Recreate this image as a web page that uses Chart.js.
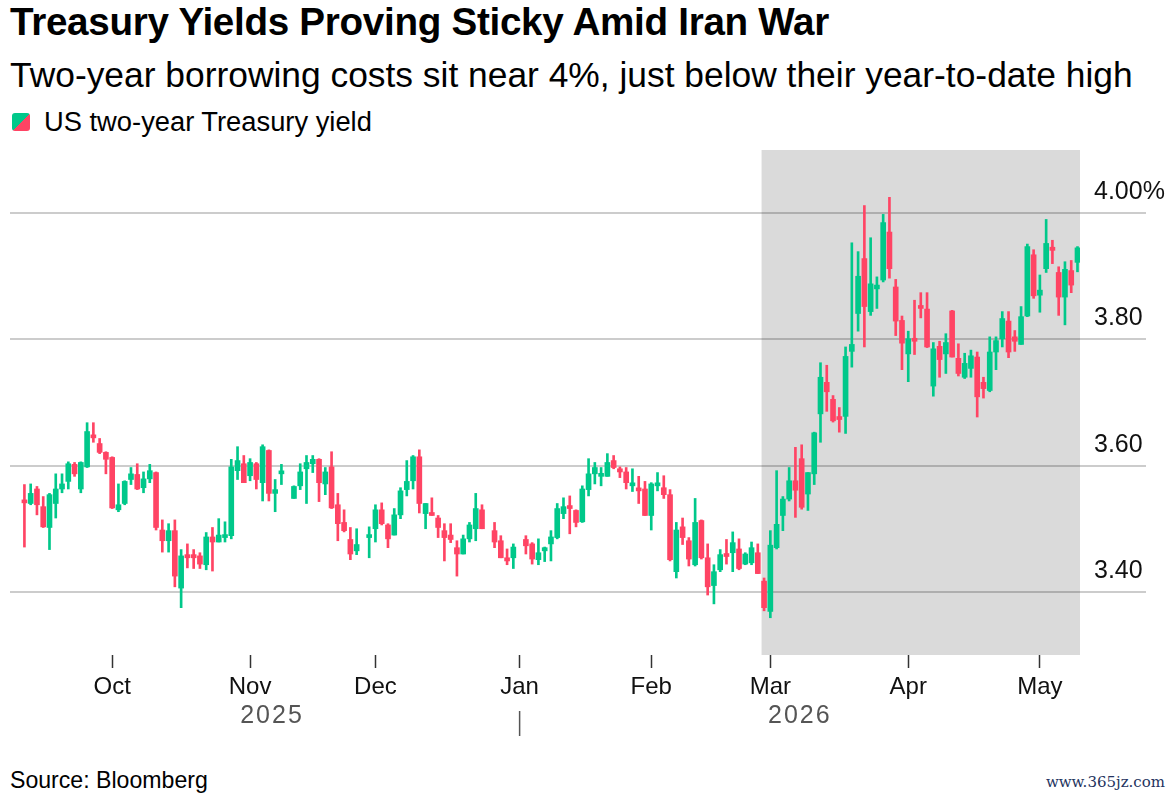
<!DOCTYPE html>
<html><head><meta charset="utf-8">
<script src="https://cdn.jsdelivr.net/npm/chart.js@4.4.1/dist/chart.umd.min.js"></script>
<style>
html,body{margin:0;padding:0;background:#fff;overflow:hidden;width:1173px;height:798px;font-family:"Liberation Sans",Arial,sans-serif;color:#000}
.t{position:absolute;white-space:nowrap;line-height:1}
#title{left:10px;top:3px;font-size:35px;font-weight:700;letter-spacing:-0.3px}
#sub{left:10px;top:57px;font-size:31px}
#leg{left:12px;top:108px;font-size:26px;display:flex;align-items:center}
#leg i{display:inline-block;width:18px;height:18px;margin-right:14px;border-radius:3px;background:linear-gradient(135deg,#00c88a 50%,#ff4464 50%)}
#src{left:10px;top:769px;font-size:23px}
#wm{right:8px;top:775px;font-size:15px;font-family:"DejaVu Serif","Liberation Serif",serif;color:#24335e}
canvas{position:absolute;left:0;top:140px}
</style></head>
<body>
<div class="t" id="title">Treasury Yields Proving Sticky Amid Iran War</div>
<div class="t" id="sub">Two-year borrowing costs sit near 4%, just below their year-to-date high</div>
<div class="t" id="leg"><i></i><span id="legtxt">US two-year Treasury yield</span></div>
<div class="t" id="src">Source: Bloomberg</div>
<div class="t" id="wm">www.365jz.com</div>
<canvas id="c" width="1173" height="605"></canvas>
<script>
// Daily OHLC of the US two-year Treasury yield (%), one slot per weekday; null = no trading
const opens = [3.545,3.540,3.563,3.535,3.502,3.540,3.563,3.575,3.602,3.563,
3.598,3.648,3.635,3.621,3.613,3.530,3.540,3.578,3.586,3.565,
3.579,3.589,3.498,3.481,3.497,3.406,3.459,3.459,3.457,3.443,
3.487,3.479,3.486,3.489,3.592,3.603,3.584,3.603,3.573,3.624,
3.556,3.587,null,3.548,3.568,3.595,3.603,3.610,3.571,3.598,
3.538,3.510,3.483,3.465,null,3.486,3.500,3.530,3.506,3.490,
3.522,3.562,3.576,3.614,3.524,3.524,3.517,3.497,3.490,3.470,
3.460,3.484,3.500,3.530,null,3.497,3.481,3.454,3.454,null,
3.483,3.476,3.451,3.465,3.476,3.486,3.524,3.533,3.529,3.511,
3.562,3.587,3.583,3.583,3.608,3.595,3.590,3.568,3.563,3.563,
3.521,3.568,3.565,3.554,3.432,3.503,3.481,3.443,3.513,3.454,
3.410,3.435,3.459,3.462,3.468,3.444,3.446,3.462,3.417,3.369,
3.470,3.521,3.547,3.576,3.611,3.555,3.587,3.682,3.732,3.705,
3.675,3.678,3.781,3.841,3.928,3.844,3.880,3.894,3.970,3.883,
3.830,3.777,3.801,3.852,3.848,3.726,3.789,3.777,3.845,3.770,
3.740,3.754,3.772,3.732,3.719,3.780,3.801,3.829,3.804,3.792,
3.837,3.934,3.870,3.912,3.946,3.906,3.867,3.909,3.922];
const highs = [3.570,3.571,3.567,3.551,3.556,3.587,3.587,3.606,3.605,3.606,
3.668,3.668,3.643,3.622,3.614,3.571,3.576,3.597,3.603,3.590,
3.602,3.590,3.514,3.508,3.514,3.467,3.476,3.467,3.462,3.494,
3.502,3.516,3.511,3.610,3.630,3.616,3.611,3.605,3.633,3.625,
3.578,3.602,null,3.568,3.603,3.616,3.616,3.611,3.597,3.622,
3.556,3.530,3.502,3.500,null,3.503,3.538,3.541,3.508,3.532,
3.565,3.608,3.616,3.625,3.540,3.549,3.521,3.508,3.508,3.481,
3.490,3.510,3.556,3.538,null,3.510,3.489,3.468,3.476,null,
3.489,3.478,3.484,3.471,3.497,3.540,3.549,3.552,3.530,3.568,
3.611,3.605,3.597,3.619,3.616,3.598,3.597,3.595,3.583,3.575,
3.573,3.589,3.584,3.562,3.510,3.517,3.486,3.548,3.514,3.476,
3.443,3.467,3.483,3.495,3.484,3.462,3.479,3.476,3.422,3.497,
3.592,3.551,3.597,3.629,3.633,3.589,3.653,3.763,3.759,3.711,
3.692,3.788,3.953,3.939,4.012,3.961,3.899,3.998,4.025,3.895,
3.837,3.813,3.862,3.874,3.874,3.795,3.797,3.809,3.846,3.793,
3.778,3.783,3.780,3.740,3.804,3.804,3.844,3.844,3.814,3.852,
3.951,3.942,3.902,3.990,3.957,3.915,3.923,3.925,3.947];
const lows = [3.471,3.538,3.522,3.502,3.467,3.517,3.557,3.563,3.583,3.557,
3.597,3.637,3.619,3.587,3.532,3.527,3.538,3.570,3.562,3.557,
3.573,3.498,3.463,3.463,3.408,3.375,3.438,3.437,3.437,3.435,
3.433,3.479,3.479,3.484,3.578,3.573,3.576,3.563,3.544,3.544,
3.527,3.570,null,3.548,3.562,3.540,3.589,3.543,3.554,3.532,
3.481,3.495,3.451,3.459,null,3.454,3.479,3.506,3.470,3.490,
3.516,3.552,3.563,3.525,3.500,3.521,3.486,3.449,3.478,3.425,
3.460,3.479,3.481,3.500,null,3.470,3.454,3.443,3.437,null,
3.460,3.444,3.443,3.448,3.449,3.484,3.516,3.492,3.503,3.510,
3.552,3.571,3.568,3.583,3.595,3.581,3.563,3.559,3.540,3.521,
3.498,3.560,3.548,3.449,3.422,3.475,3.441,3.441,3.452,3.395,
3.381,3.432,3.444,3.432,3.435,3.443,3.443,3.429,3.370,3.359,
3.468,3.497,3.544,3.518,3.531,3.529,3.570,3.637,3.686,3.669,
3.653,3.651,3.756,3.813,3.788,3.838,3.849,3.891,3.897,3.806,
3.752,3.733,3.776,3.834,3.787,3.710,3.740,3.746,3.772,3.742,
3.738,3.740,3.677,3.707,3.717,3.752,3.788,3.771,3.781,3.792,
3.836,3.865,3.843,3.906,3.920,3.838,3.823,3.874,3.907];
const closes = [3.541,3.556,3.538,3.503,3.554,3.563,3.571,3.603,3.587,3.605,
3.654,3.644,3.621,3.610,3.533,3.538,3.575,3.587,3.563,3.579,
3.592,3.502,3.481,3.497,3.425,3.457,3.454,3.454,3.444,3.487,
3.479,3.490,3.489,3.598,3.608,3.573,3.605,3.578,3.630,3.556,
3.562,3.590,null,3.567,3.590,3.605,3.610,3.573,3.590,3.533,
3.508,3.497,3.460,3.475,null,3.489,3.530,3.508,3.484,3.522,
3.560,3.575,3.614,3.540,3.540,3.521,3.502,3.486,3.483,3.460,
3.484,3.506,3.532,3.500,null,3.479,3.454,3.449,3.471,null,
3.473,3.452,3.462,3.470,3.487,3.532,3.535,3.532,3.510,3.563,
3.587,3.597,3.586,3.605,3.597,3.590,3.573,3.571,3.560,3.521,
3.571,3.570,3.554,3.451,3.498,3.486,3.452,3.510,3.454,3.408,
3.432,3.459,3.456,3.478,3.437,3.460,3.470,3.429,3.375,3.474,
3.507,3.547,3.576,3.561,3.534,3.589,3.652,3.740,3.717,3.671,
3.673,3.773,3.792,3.900,3.852,3.888,3.886,3.985,3.912,3.829,
3.794,3.801,3.797,3.849,3.788,3.785,3.768,3.795,3.772,3.746,
3.762,3.774,3.709,3.722,3.780,3.798,3.833,3.780,3.797,3.836,
3.947,3.869,3.878,3.952,3.941,3.867,3.911,3.886,3.945];

// Axis labels
const monthTickSlots = [14, 36, 56, 79, 100, 119, 141, 162];
const monthTickLabels = ['Oct', 'Nov', 'Dec', 'Jan', 'Feb', 'Mar', 'Apr', 'May'];
const yearLabels = ['2025', '2026'];
const yearBreakSlot = 79;
const yTickValues = [3.40, 3.60, 3.80, 4.00];
const warStartSlot = 117.6;

// fit header texts to the reference widths
function fitW(id, w){ const el=document.getElementById(id); const fs=parseFloat(getComputedStyle(el).fontSize); const cw=el.getBoundingClientRect().width; el.style.fontSize=(fs*w/cw)+'px'; }
fitW('title', 818); fitW('sub', 1123); fitW('legtxt', 328); fitW('src', 198);

const GREEN = '#00c88a', RED = '#ff4464';
const wicks = [], bodies = [];
opens.forEach((o, i) => {
  if (o == null) return;
  const up = closes[i] >= o;
  wicks.push({x: i, y: [lows[i], highs[i]], up});
  bodies.push({x: i, y: [o, closes[i]], up});
});
const col = ctx => (ctx.raw && ctx.raw.up) ? GREEN : RED;
const FONT = '"Liberation Sans", Arial, sans-serif';

const shade = {
  id: 'shade',
  beforeDraw(chart) {
    const {ctx, chartArea: a, scales: {x}} = chart;
    const x0 = x.getPixelForValue(warStartSlot);
    ctx.save(); ctx.fillStyle = '#dadada';
    ctx.fillRect(x0, a.top, a.right - x0, a.bottom - a.top);
    ctx.restore();
  }
};
const years = {
  id: 'years',
  afterDraw(chart) {
    const {ctx, chartArea: a, scales: {x}} = chart;
    const xb = x.getPixelForValue(yearBreakSlot);
    const xs = x.getPixelForValue(0);
    ctx.save();
    ctx.font = '25px ' + FONT; ctx.fillStyle = '#555'; ctx.textAlign = 'center'; ctx.textBaseline = 'middle';
    try { ctx.letterSpacing = '2px'; } catch (e) {}
    ctx.fillText(yearLabels[0], (xs + xb) / 2, a.bottom + 61);
    ctx.fillText(yearLabels[1], (xb + a.right) / 2, a.bottom + 61);
    ctx.strokeStyle = '#555'; ctx.lineWidth = 1.5;
    ctx.beginPath(); ctx.moveTo(xb, a.bottom + 56); ctx.lineTo(xb, a.bottom + 81); ctx.stroke();
    ctx.restore();
  }
};

new Chart(document.getElementById('c'), {
  type: 'bar',
  data: { datasets: [
    { data: wicks, barThickness: 2, backgroundColor: col, grouped: false, order: 2 },
    { data: bodies, barThickness: 5, minBarLength: 3, backgroundColor: col, grouped: false, order: 1 }
  ]},
  options: {
    responsive: false, animation: false, events: [],
    layout: { padding: { left: 10, top: 10, right: 0, bottom: 0 } },
    plugins: { legend: { display: false }, tooltip: { enabled: false }, title: { display: false } },
    scales: {
      x: {
        type: 'linear', min: -2.3, max: 168.4, offset: false,
        afterBuildTicks: s => { s.ticks = monthTickSlots.map(v => ({ value: v })); },
        afterFit: s => { s.height = 90; },
        grid: { offset: false, drawOnChartArea: false, drawTicks: true, tickLength: 13, color: '#333', tickColor: '#333', tickWidth: 1.5 },
        border: { display: false },
        ticks: { autoSkip: false, maxRotation: 0, padding: 5, color: '#111', font: { size: 24, family: FONT },
          callback: (v, i) => monthTickLabels[i] }
      },
      y: {
        position: 'right', min: 3.3, max: 4.1,
        afterBuildTicks: s => { s.ticks = yTickValues.map(v => ({ value: v })); },
        afterFit: s => { s.width = 93; },
        grid: { color: 'rgba(0,0,0,0.2)', lineWidth: 2, drawTicks: true, tickLength: 66 },
        border: { display: false },
        ticks: { padding: -52, labelOffset: -21, color: '#111', font: { size: 25, family: FONT },
          callback: v => Math.abs(v - 4) < 1e-9 ? '4.00%' : v.toFixed(2) }
      }
    }
  },
  plugins: [shade, years]
});
</script>
</body></html>
